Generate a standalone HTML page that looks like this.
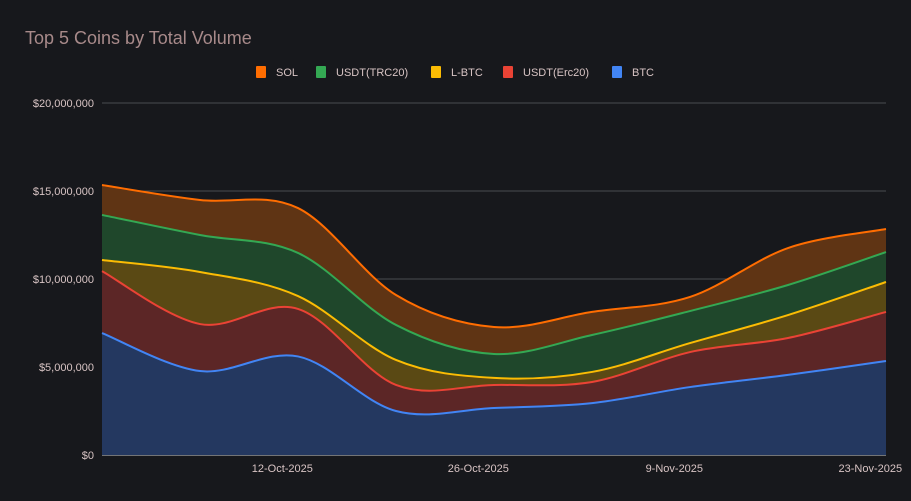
<!DOCTYPE html>
<html><head><meta charset="utf-8"><style>
html,body{margin:0;padding:0;background:#17181c;width:911px;height:501px;overflow:hidden;font-family:"Liberation Sans",sans-serif}
</style></head><body>
<svg id="chart" width="911" height="501" xmlns="http://www.w3.org/2000/svg">
<rect width="911" height="501" fill="#17181c"/>
<text x="25" y="44" font-size="18" fill="#a88a8a" font-family="Liberation Sans, sans-serif">Top 5 Coins by Total Volume</text>
<g id="legend"></g>
<g id="grid"></g>
<g id="areas"></g>
<g id="lines"></g>
<g id="axes"></g>
</svg>
<script>
const seriesNames = ["BTC","USDT(Erc20)","L-BTC","USDT(TRC20)","SOL"];
const btc    = [6.93,4.77,5.60,2.50,2.67,2.95,3.86,4.55,5.34];
const erc20  = [3.52,2.67,2.70,1.48,1.31,1.20,1.99,2.10,2.79];
const lbtc   = [0.63,2.96,0.73,1.42,0.40,0.57,0.51,1.30,1.70];
const trc20  = [2.56,2.10,2.45,1.99,1.36,2.10,1.82,1.71,1.70];
const sol    = [1.70,1.99,2.55,1.70,1.53,1.31,0.80,2.10,1.31];
const yTicks = [0,5,10,15,20];
const yTickLabels = ["$0","$5,000,000","$10,000,000","$15,000,000","$20,000,000"];
const xTickIdx = [1.84,3.84,5.84,7.84];
const xTickLabels = ["12-Oct-2025","26-Oct-2025","9-Nov-2025","23-Nov-2025"];

const NS="http://www.w3.org/2000/svg";
const L=102,R=886,T=103,B=455,YMAX=20;
const n=btc.length;
const xs=i=>L+(R-L)*i/(n-1);
const ys=v=>B-(B-T)*v/YMAX;
function mk(tag,attrs,parent){const e=document.createElementNS(NS,tag);for(const k in attrs)e.setAttribute(k,attrs[k]);parent.appendChild(e);return e;}
const lineCols=["#4285f4","#ea4335","#fbbc04","#34a853","#ff6d01"];
const fillCols=["#243860","#5c2626","#5a4914","#1f472b","#5f3414"];
const data=[btc,erc20,lbtc,trc20,sol];
const cum=[];let run=new Array(n).fill(0);
data.forEach(s=>{run=run.map((v,i)=>v+s[i]);cum.push(run.slice());});
function smooth(pts){let d="";for(let i=0;i<pts.length-1;i++){const p0=pts[Math.max(i-1,0)],p1=pts[i],p2=pts[i+1],p3=pts[Math.min(i+2,pts.length-1)];const c1=[p1[0]+(p2[0]-p0[0])/6,p1[1]+(p2[1]-p0[1])/6];const c2=[p2[0]-(p3[0]-p1[0])/6,p2[1]-(p3[1]-p1[1])/6];d+=` C${c1[0]},${c1[1]} ${c2[0]},${c2[1]} ${p2[0]},${p2[1]}`;}return d;}
const grid=document.getElementById('grid'),axes=document.getElementById('axes');
yTicks.forEach((t,i)=>{
  const g=mk('line',{x1:L,x2:R,y1:ys(t),y2:ys(t),stroke:i===0?"#cfcfcf":"#4a4b50","stroke-width":1},grid);
  
  
  const tx=mk('text',{x:94,y:ys(t)+4,"text-anchor":"end","font-size":11,fill:"#d8c4c4"},axes);tx.textContent=yTickLabels[i];
  
  
});
xTickIdx.forEach((xi,i)=>{
  let x=xs(xi);
  const tx=mk('text',{x:Math.min(x,871),y:472,"text-anchor":"middle","font-size":11,fill:"#d8c4c4"},axes);tx.textContent=xTickLabels[i];
  
  
});
const areas=document.getElementById('areas'),lines=document.getElementById('lines');
for(let s=4;s>=0;s--){
  const top=cum[s].map((v,i)=>[xs(i),ys(v)]);
  const d="M"+top[0][0]+","+top[0][1]+smooth(top);
  const a=mk('path',{d:d+` L${R},${B} L${L},${B} Z`,fill:fillCols[s]},areas);
  
  
  const l=mk('path',{d:d,fill:"none",stroke:lineCols[s],"stroke-width":2},lines);
  
  
}
const legend=document.getElementById('legend');
const legOrder=[4,3,2,1,0];const legX=[256,316,431,503,612];
legOrder.forEach((s,k)=>{
  const g=mk('g',{},legend);
  
  
  mk('rect',{x:legX[k],y:66,width:10,height:12,rx:1,fill:lineCols[s]},g);
  const t=mk('text',{x:legX[k]+20,y:76,"font-size":11,fill:"#d8c4c4"},g);t.textContent=seriesNames[s];
});
</script>
</body></html>
